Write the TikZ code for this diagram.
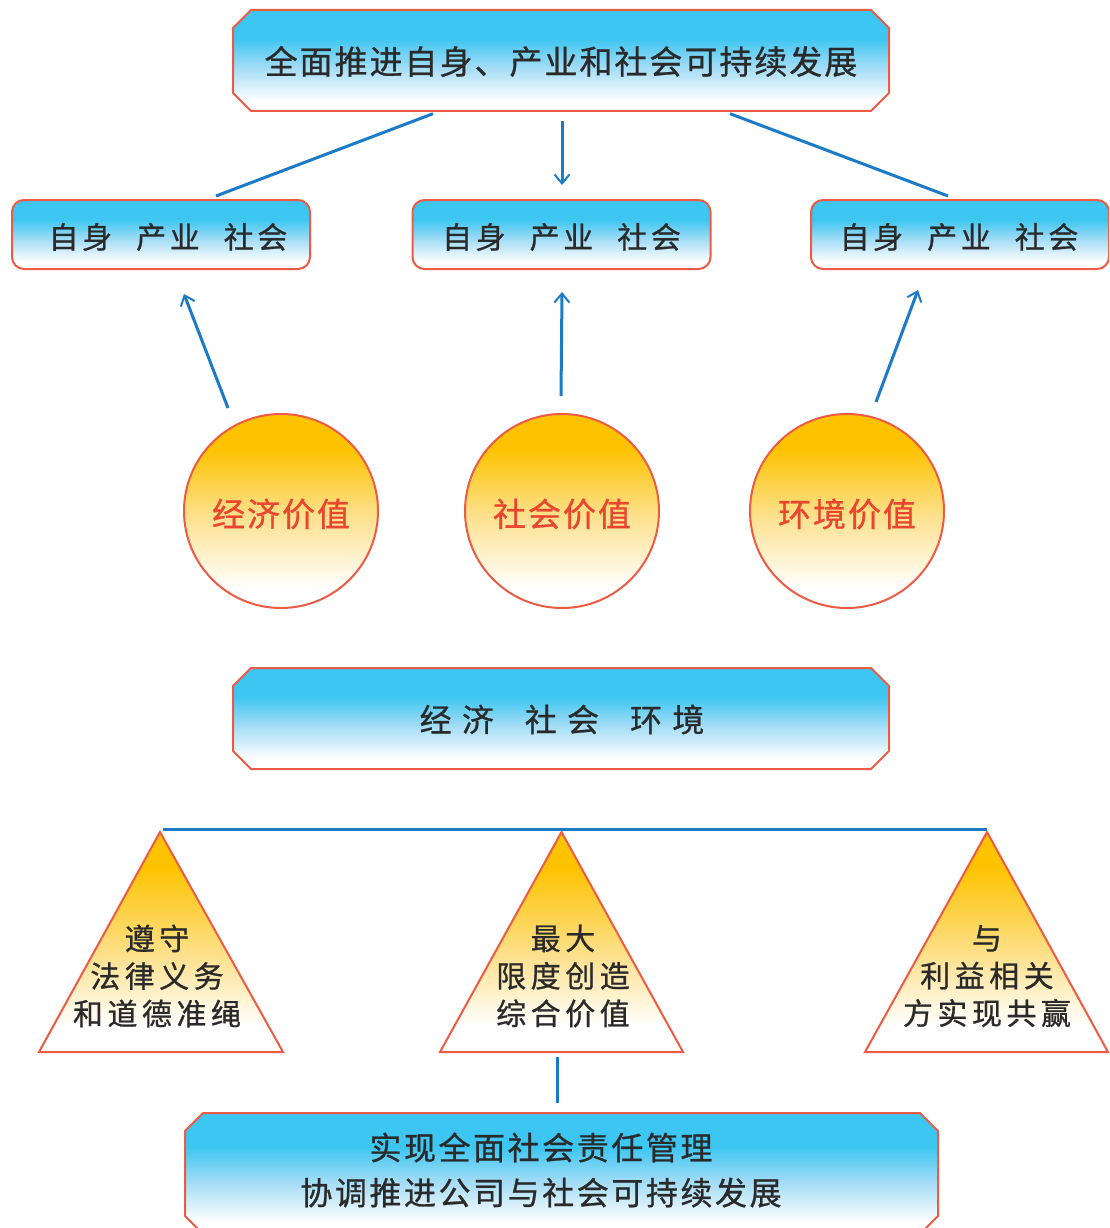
\documentclass[tikz,border=0pt]{standalone}
\usepackage{fontspec}
\newfontfamily\cjk{Noto Sans CJK SC}[FakeBold=0.8]
\usetikzlibrary{arrows.meta,calc}
\definecolor{cyanB}{HTML}{3CC6F1}
\definecolor{cyanL}{HTML}{A6DDF6}
\definecolor{goldB}{HTML}{FDC300}
\definecolor{goldL}{HTML}{FDE08C}
\definecolor{edgeC}{HTML}{EE5B45}
\definecolor{linkC}{HTML}{1B7BC7}
\definecolor{inkC}{HTML}{2A2A2A}
\definecolor{valC}{HTML}{E8462F}
\pgfdeclareverticalshading{boxsh}{100bp}{color(0bp)=(white); color(30bp)=(white); color(46bp)=(cyanL); color(61bp)=(cyanB); color(100bp)=(cyanB)}
\pgfdeclareverticalshading{circsh}{100bp}{color(0bp)=(white); color(30bp)=(white); color(49bp)=(goldL); color(66bp)=(goldB); color(100bp)=(goldB)}
\pgfdeclareverticalshading{trish}{100bp}{color(0bp)=(white); color(31bp)=(white); color(47bp)=(goldL); color(67bp)=(goldB); color(100bp)=(goldB)}
\newcommand\cjkfs[3]{\cjk\fontsize{#1}{#2}\selectfont\addfontfeature{LetterSpace=#3}}
\begin{document}
\begin{tikzpicture}[x=1pt,y=-1pt,
  boxline/.style={draw=edgeC, line width=2pt, shading=boxsh},
  circline/.style={draw=edgeC, line width=2pt, shading=circsh},
  triline/.style={draw=edgeC, line width=2pt, shading=trish, line join=miter},
  link/.style={draw=linkC, line width=3pt},
  arr/.style={link, -{Straight Barb[length=9pt,width=15pt,line width=2pt]}},
  txt/.style={text=inkC, inner sep=0pt},
  smallbox/.style={boxline, rectangle, rounded corners=12pt, minimum width=298pt, minimum height=69pt, inner sep=0pt},
  boxtxt/.style={txt, font={\cjkfs{30}{34}{12}}},
  valcirc/.style={circline, circle, minimum size=194pt, inner sep=0pt},
  valtxt/.style={inner sep=0pt, text=valC, font={\cjkfs{33}{40}{6}}},
  tritxt/.style={txt, align=center, font={\cjkfs{30}{37.5}{15}}}
]
\useasboundingbox (0,0) rectangle (1109,1228);
\fill[white] (0,0) rectangle (1109,1228);
\clip (0,0) rectangle (1109,1228);

% top chamfered box
\path[boxline] (251,10) -- (871,10) -- (889,28) -- (889,93) -- (871,111) -- (251,111) -- (233,93) -- (233,28) -- cycle;
\node[txt, minimum width=656pt, minimum height=101pt, font={\cjkfs{33}{40}{6}}] (top) at (561,61.5) {全面推进自身、产业和社会可持续发展};

% small boxes
\node[smallbox] (sL) at (161,234.5) {};
\node[smallbox] (sM) at (561.5,234.5) {};
\node[smallbox] (sR) at (960,234.5) {};
\node[boxtxt] (sLt) at ($(sL.center)+(7,2.5)$) {自身\hspace{24pt}产业\hspace{24pt}社会};
\node[boxtxt] (sMt) at ($(sM.center)+(0,2.5)$) {自身\hspace{24pt}产业\hspace{24pt}社会};
\node[boxtxt] (sRt) at ($(sR.center)+(-1,2.5)$) {自身\hspace{24pt}产业\hspace{24pt}社会};

% connectors top -> small boxes
\draw[link] ($(top.south)+(-128,1.5)$) -- ($(sL.north)+(55,-3)$);
\draw[arr] ($(top.south)+(1,9)$) -- ($(sM.north)+(0.5,-14)$);
\draw[link] ($(top.south)+(169,1.5)$) -- ($(sR.north)+(-12,-3)$);

% value circles
\node[valcirc] (cL) at (281,511) {};
\node[valcirc] (cM) at (562,511) {};
\node[valcirc] (cR) at (847,511) {};
\node[valtxt] at ($(cL.center)+(0,3)$) {经济价值};
\node[valtxt] at ($(cM.center)+(0,3)$) {社会价值};
\node[valtxt] at ($(cR.center)+(0,3)$) {环境价值};

\draw[arr] ($(cL.center)+(-53,-103)$) -- ($(sL.south)+(23,24)$);
\draw[arr] ($(cM.center)+(-1,-115)$) -- ($(sM.south)+(0.5,22)$);
\draw[arr] ($(cR.center)+(29,-109)$) -- ($(sR.south)+(-42,20)$);

% middle chamfered box
\path[boxline] (251,668) -- (871,668) -- (889,686) -- (889,751) -- (871,769) -- (251,769) -- (233,751) -- (233,686) -- cycle;
\node[txt, minimum width=656pt, minimum height=101pt, font={\cjkfs{32}{40}{32}}] (mid) at (562,719.5) {经济\hspace{31pt}社会\hspace{31pt}环境};

% triangles
\coordinate (t1a) at (160,832);
\coordinate (t2a) at (561.5,832);
\coordinate (t3a) at (987,832);
\coordinate (t2b) at (561.5,1052);
\path[triline] (t1a) -- (39,1052) -- (283,1052) -- cycle;
\path[triline] (t2a) -- (440,1052) -- (683,1052) -- cycle;
\path[triline] (t3a) -- (865,1052) -- (1108,1052) -- cycle;
\node[tritxt] (tx1) at (157,976) {遵守\\法律义务\\和道德准绳};
\node[tritxt] (tx2) at (563,976) {最大\\限度创造\\综合价值};
\node[tritxt] (tx3) at (987,976) {与\\利益相关\\方实现共赢};

\draw[link] ($(t1a)+(3,-3)$) -- ($(t3a)+(0,-3)$);

% bottom chamfered box
\path[boxline] (203,1113) -- (920,1113) -- (938,1131) -- (938,1216) -- (920,1234) -- (203,1234) -- (185,1216) -- (185,1131) -- cycle;
\node[txt, minimum width=753pt, minimum height=115pt] (bot) at (561.5,1170.5) {};
\node[txt, align=center, font={\cjkfs{32}{45}{8}}] (bottxt) at (541,1170) {实现全面社会责任管理\\协调推进公司与社会可持续发展};

\draw[link] ($(t2b)+(-4.5,5)$) -- ($(bot.north)+(-4.5,-10)$);
\end{tikzpicture}
\end{document}
